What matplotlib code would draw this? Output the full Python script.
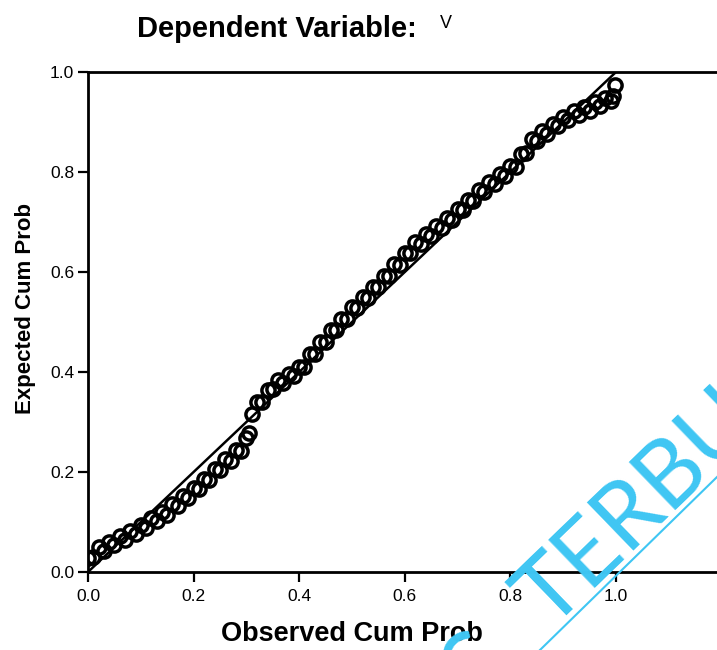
import matplotlib
matplotlib.use("Agg")
import matplotlib.pyplot as plt
from matplotlib.lines import Line2D
import math

# ---- data ----
observed = [0.000, 0.010, 0.020, 0.030, 0.040, 0.050, 0.060, 0.070, 0.080, 0.090,
            0.100, 0.110, 0.120, 0.130, 0.140, 0.150, 0.160, 0.170, 0.180, 0.190,
            0.200, 0.210, 0.220, 0.230, 0.240, 0.250, 0.260, 0.270, 0.280, 0.290,
            0.300, 0.305, 0.310, 0.320, 0.330, 0.340, 0.350, 0.360, 0.370, 0.380, 0.390,
            0.400, 0.410, 0.420, 0.430, 0.440, 0.450, 0.460, 0.470, 0.480, 0.490,
            0.500, 0.510, 0.520, 0.530, 0.540, 0.550, 0.560, 0.570, 0.580, 0.590,
            0.600, 0.610, 0.620, 0.630, 0.640, 0.650, 0.660, 0.670, 0.680, 0.690,
            0.700, 0.710, 0.720, 0.730, 0.740, 0.750, 0.760, 0.770, 0.780, 0.790,
            0.800, 0.810, 0.820, 0.830, 0.840, 0.850, 0.860, 0.870, 0.880, 0.890,
            0.900, 0.910, 0.920, 0.930, 0.940, 0.950, 0.960, 0.970, 0.980, 0.990,
            0.995, 0.998]
expected = [0.028, 0.030, 0.050, 0.043, 0.061, 0.054, 0.072, 0.065, 0.083, 0.077,
            0.095, 0.089, 0.108, 0.102, 0.120, 0.115, 0.136, 0.132, 0.153, 0.149,
            0.169, 0.166, 0.186, 0.184, 0.206, 0.204, 0.226, 0.223, 0.245, 0.243,
            0.268, 0.278, 0.316, 0.340, 0.340, 0.365, 0.366, 0.384, 0.378, 0.397, 0.392,
            0.411, 0.411, 0.436, 0.436, 0.461, 0.460, 0.484, 0.484, 0.507, 0.507,
            0.530, 0.528, 0.551, 0.549, 0.571, 0.570, 0.592, 0.592, 0.616, 0.615,
            0.639, 0.639, 0.661, 0.656, 0.676, 0.672, 0.692, 0.688, 0.708, 0.705,
            0.726, 0.724, 0.745, 0.743, 0.764, 0.760, 0.780, 0.776, 0.796, 0.792,
            0.812, 0.811, 0.837, 0.839, 0.866, 0.863, 0.882, 0.877, 0.896, 0.892,
            0.911, 0.905, 0.922, 0.914, 0.931, 0.923, 0.940, 0.932, 0.949, 0.942,
            0.952, 0.975]
ref_line = [0.0, 1.0]
ticks = [0.0, 0.2, 0.4, 0.6, 0.8, 1.0]
tick_labels = ["0.0", "0.2", "0.4", "0.6", "0.8", "1.0"]

title = "Dependent Variable:"
dep_var = "V"
xlabel = "Observed Cum Prob"
ylabel = "Expected Cum Prob"
watermark_left = "UNIVERSITAS"
watermark_right = "TERBUKA"

plt.rcParams['font.family'] = ['Liberation Sans', 'DejaVu Sans']

W, H = 717, 650
fig = plt.figure(figsize=(W / 100, H / 100), dpi=100)
fig.patch.set_facecolor("white")

ax = fig.add_axes([88 / W, 78 / H, 1 - 88 / W, 500 / H])
ax.set_xlim(0, (W - 88) / 528)
ax.set_ylim(0, 1.0)

ax.plot(ref_line, ref_line, color="black", lw=1.8, zorder=2)
ax.plot(observed, expected, linestyle="none", marker="o", ms=9.5,
        mfc="none", mec="black", mew=2.5, zorder=3)

for s in ["left", "bottom", "top"]:
    ax.spines[s].set_linewidth(2.0)
    ax.spines[s].set_color("black")
ax.spines["right"].set_visible(False)

ax.set_xticks(ticks)
ax.set_xticklabels(tick_labels)
ax.set_yticks(ticks)
ax.set_yticklabels(tick_labels)
ax.tick_params(direction="out", length=7, width=1.6, labelsize=12.5,
               colors="black")
ax.tick_params(axis="x", pad=5)
ax.tick_params(axis="y", pad=3)

fig.text(137 / W, 1 - 37 / H, title, fontsize=21, fontweight="bold",
         ha="left", va="baseline")
fig.text(440 / W, 1 - 15 / H, dep_var, fontsize=13, ha="left", va="top")
fig.text(352 / W, 1 - 634 / H, xlabel, fontsize=19.5, fontweight="bold",
         ha="center", va="center")
fig.text(26 / W, 1 - 309 / H, ylabel, fontsize=16, fontweight="bold",
         ha="center", va="center", rotation=90)

# watermark
wm_color = "#3FC6F3"
ang = 44
wm_size = 67
tx, ty = 550, 630                  # baseline-left of "T" in pixels (from top-left)
space = 50
ux, uy = math.cos(math.radians(ang)), math.sin(math.radians(ang))
fig.text(tx / W, 1 - ty / H, watermark_right, fontsize=wm_size, color=wm_color,
         family=["Lato", "DejaVu Sans"],
         rotation=ang, rotation_mode="anchor", ha="left", va="baseline",
         zorder=10)
lx, ly = tx - space * ux, ty + space * uy
fig.text(lx / W, 1 - ly / H, watermark_left, fontsize=wm_size, color=wm_color,
         family=["Lato", "DejaVu Sans"],
         rotation=ang, rotation_mode="anchor", ha="right", va="baseline",
         zorder=10)
fig.add_artist(Line2D([540 / W, 717 / W], [1 - 650 / H, 1 - 477 / H],
                      transform=fig.transFigure, color=wm_color, lw=1.5,
                      zorder=10))

fig.savefig("out.png", dpi=100, facecolor="white")
